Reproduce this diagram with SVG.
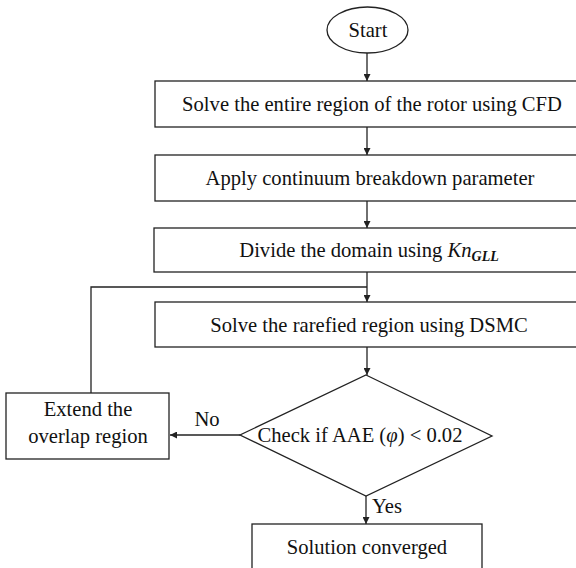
<svg xmlns="http://www.w3.org/2000/svg" width="576" height="568" viewBox="0 0 576 568">
<style>
.b{fill:#fff;stroke:#222;stroke-width:1.3}
.t{font-family:"Liberation Serif","Times New Roman",serif;font-size:20.6px;fill:#111;text-anchor:middle}
.l{fill:none;stroke:#222;stroke-width:1.3}
</style>
<defs>
<marker id="a" viewBox="0 0 10 10" refX="10" refY="5" markerWidth="7" markerHeight="7" markerUnits="userSpaceOnUse" orient="auto">
<path d="M0,0L10,5L0,10z" fill="#222"/>
</marker>
</defs>
<rect width="576" height="568" fill="#fff"/>
<g id="connectors">
<path class="l" d="M367,53V81" marker-end="url(#a)"/>
<path class="l" d="M367,127V155" marker-end="url(#a)"/>
<path class="l" d="M367,201V228" marker-end="url(#a)"/>
<path class="l" d="M367,272V302" marker-end="url(#a)"/>
<path class="l" d="M367,347V375" marker-end="url(#a)"/>
<path class="l" d="M240,435H170" marker-end="url(#a)"/>
<path class="l" d="M91,393V287H367"/>
<path class="l" d="M366,496V524" marker-end="url(#a)"/>
<text class="t" x="207" y="426">No</text>
<text class="t" x="387" y="513">Yes</text>
</g>
<g id="start">
<ellipse class="b" cx="367.5" cy="30" rx="40.5" ry="23"/>
<text class="t" x="368" y="37">Start</text>
</g>
<g id="solve-cfd">
<rect class="b" x="155" y="81" width="430" height="46"/>
<text class="t" x="372" y="111">Solve the entire region of the rotor using CFD</text>
</g>
<g id="apply">
<rect class="b" x="155" y="155" width="430" height="46"/>
<text class="t" x="370" y="185">Apply continuum breakdown parameter</text>
</g>
<g id="divide">
<rect class="b" x="154" y="228" width="431" height="44"/>
<text class="t" x="369" y="257">Divide the domain using <tspan font-style="italic">Kn</tspan><tspan font-style="italic" font-weight="bold" font-size="14" dy="4">GLL</tspan></text>
</g>
<g id="solve-dsmc">
<rect class="b" x="155" y="302" width="430" height="45"/>
<text class="t" x="369" y="332">Solve the rarefied region using DSMC</text>
</g>
<g id="check">
<polygon class="b" points="366,375 492,436 366,496 240,435"/>
<text class="t" x="360" y="442" font-size="21.4">Check if AAE (<tspan font-style="italic">φ</tspan>) &lt; 0.02</text>
</g>
<g id="extend">
<rect class="b" x="6" y="393" width="163" height="66"/>
<text class="t" x="88" y="416">Extend the</text>
<text class="t" x="88" y="443">overlap region</text>
</g>
<g id="converged">
<rect class="b" x="252" y="524" width="230" height="50"/>
<text class="t" x="367" y="554">Solution converged</text>
</g>
</svg>
